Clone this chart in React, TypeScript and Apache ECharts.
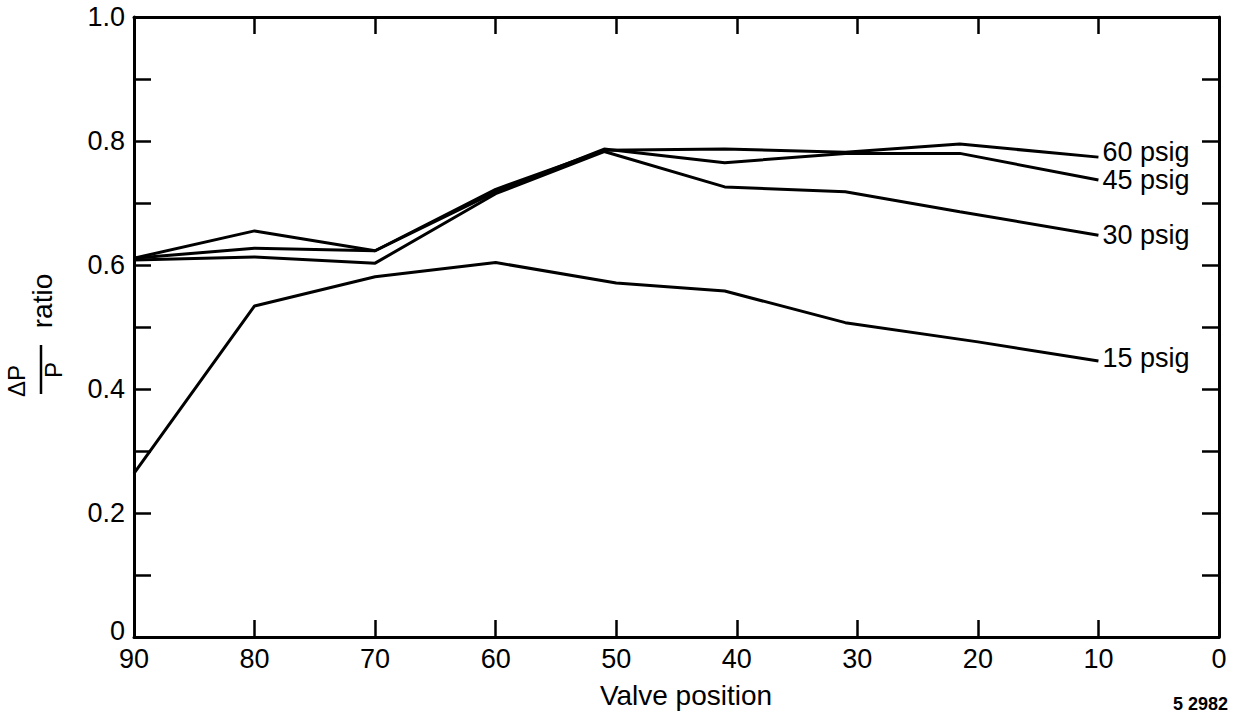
import React, { useEffect, useRef } from "react";
import * as echarts from "echarts";

const xPos = [90, 80, 70, 60, 51, 41, 31, 21.5, 10];
const p60 = [0.611, 0.655, 0.623, 0.722, 0.785, 0.787, 0.782, 0.795, 0.774];
const p45 = [0.611, 0.627, 0.623, 0.718, 0.787, 0.765, 0.78, 0.78, 0.737];
const p30 = [0.608, 0.613, 0.603, 0.715, 0.783, 0.726, 0.718, 0.686, 0.648];
const x15 = [90, 80, 70, 60, 50, 41, 31, 20, 10];
const p15 = [0.264, 0.534, 0.581, 0.604, 0.571, 0.558, 0.507, 0.476, 0.445];
const seriesNames = ["60 psig", "45 psig", "30 psig", "15 psig"];
const labelOffsets = [[0, -5], [0, 0], [0, 0], [0, -3]];

const FONT = "'Liberation Sans', Arial, Helvetica, sans-serif";

export default function App() {
  const ref = useRef<HTMLDivElement>(null);
  useEffect(() => {
    const chart = echarts.init(ref.current!, null, { renderer: "svg" });
    const sets = [
      [xPos, p60],
      [xPos, p45],
      [xPos, p30],
      [x15, p15],
    ];
    const series = sets.map(([xs, ys], i) => {
      const n = xs.length - 1;
      return {
        type: "line",
        name: seriesNames[i],
        data: xs.map((x, j) => [x, ys[j]]),
        showSymbol: false,
        symbol: "none",
        lineStyle: { color: "#000", width: 3 },
        z: 5,
        markPoint: {
          symbol: "circle",
          symbolSize: 0,
          silent: true,
          data: [
            {
              coord: [xs[n], ys[n]],
              label: {
                show: true,
                position: "right",
                distance: 4,
                offset: labelOffsets[i],
                formatter: seriesNames[i],
                color: "#000",
                fontFamily: FONT,
                fontSize: 27,
              },
            },
          ],
        },
      };
    });
    const tickStyle = { color: "#000", width: 2.5 };
    chart.setOption({
      animation: false,
      backgroundColor: "#fff",
      grid: { left: 134, right: 21, top: 17, bottom: 82, containLabel: false },
      xAxis: [
        {
          type: "value",
          min: 0,
          max: 90,
          interval: 10,
          inverse: true,
          position: "bottom",
          axisLine: { show: true, onZero: false, lineStyle: { color: "#000", width: 3 } },
          axisTick: { show: true, inside: true, length: 17, lineStyle: tickStyle },
          axisLabel: { color: "#000", fontFamily: FONT, fontSize: 27, lineHeight: 20, margin: 12 },
          splitLine: { show: false },
        },
        {
          type: "value",
          min: 0,
          max: 90,
          interval: 10,
          inverse: true,
          position: "top",
          axisLine: { show: true, onZero: false, lineStyle: { color: "#000", width: 3 } },
          axisTick: { show: true, inside: true, length: 17, lineStyle: tickStyle },
          axisLabel: { show: false },
          splitLine: { show: false },
        },
      ],
      yAxis: [
        {
          type: "value",
          min: 0,
          max: 1,
          interval: 0.1,
          position: "left",
          axisLine: { show: true, onZero: false, lineStyle: { color: "#000", width: 3 } },
          axisTick: { show: true, inside: true, length: 17, lineStyle: tickStyle },
          axisLabel: {
            color: "#000",
            fontFamily: FONT,
            fontSize: 27,
            lineHeight: 20,
            margin: 9,
            formatter: (v: number) => {
              const k = Math.round(v * 10);
              if (k % 2 !== 0) return "";
              return k === 0 ? "{z|0}" : (k / 10).toFixed(1);
            },
            rich: {
              z: {
                color: "#000",
                fontFamily: FONT,
                fontSize: 27,
                lineHeight: 20,
                padding: [0, 0, 12, 0],
              },
            },
          },
          splitLine: { show: false },
        },
        {
          type: "value",
          min: 0,
          max: 1,
          interval: 0.1,
          position: "right",
          axisLine: { show: true, onZero: false, lineStyle: { color: "#000", width: 3 } },
          axisTick: { show: true, inside: true, length: 17, lineStyle: tickStyle },
          axisLabel: { show: false },
          splitLine: { show: false },
        },
      ],
      series,
      graphic: [
        {
          type: "text",
          x: 686,
          y: 695,
          style: {
            text: "Valve position",
            fill: "#000",
            font: `28px ${FONT}`,
            textAlign: "center",
            textVerticalAlign: "middle",
          },
        },
        {
          type: "text",
          x: 1228,
          y: 704,
          style: {
            text: "5 2982",
            fill: "#000",
            font: `bold 18px ${FONT}`,
            textAlign: "right",
            textVerticalAlign: "middle",
          },
        },
        {
          type: "text",
          x: 42,
          y: 301,
          rotation: Math.PI / 2,
          style: {
            text: "ratio",
            fill: "#000",
            font: `28px ${FONT}`,
            textAlign: "center",
            textVerticalAlign: "middle",
          },
        },
        {
          type: "text",
          x: 16,
          y: 381,
          rotation: Math.PI / 2,
          style: {
            text: "ΔP",
            fill: "#000",
            font: `24px ${FONT}`,
            textAlign: "center",
            textVerticalAlign: "middle",
          },
        },
        {
          type: "line",
          shape: { x1: 41, y1: 345, x2: 41, y2: 394 },
          style: { stroke: "#000", lineWidth: 2.5 },
        },
        {
          type: "text",
          x: 53,
          y: 370,
          rotation: Math.PI / 2,
          style: {
            text: "P",
            fill: "#000",
            font: `24px ${FONT}`,
            textAlign: "center",
            textVerticalAlign: "middle",
          },
        },
      ],
    });
    return () => chart.dispose();
  }, []);
  return (
    <div
      ref={ref}
      style={{ position: "absolute", left: 0, top: 0, width: 1240, height: 719, background: "#fff" }}
    />
  );
}
